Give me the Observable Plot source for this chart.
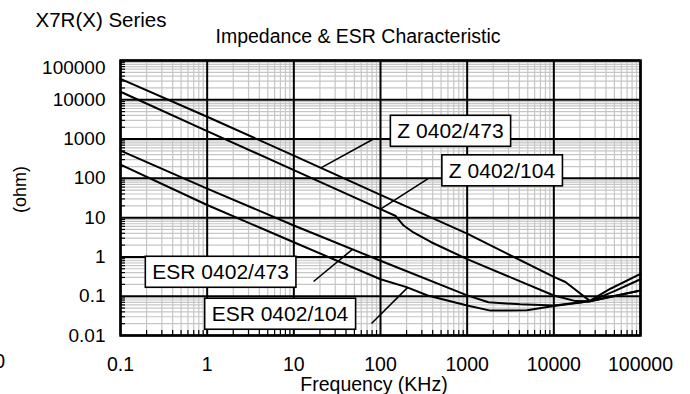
<!DOCTYPE html>
<html><head><meta charset="utf-8">
<script src="https://cdn.jsdelivr.net/npm/d3@7"></script>
<script src="https://cdn.jsdelivr.net/npm/@observablehq/plot@0.6"></script>
<style>html,body{margin:0;padding:0;background:#fff;} svg{display:block}</style>
</head><body><div id="chart"></div>
<script>
const titleText = "X7R(X) Series";
const subtitleText = "Impedance & ESR Characteristic";
const xLabelText = "Frequency (KHz)";
const yLabelText = "(ohm)";
const cornerText = "0";

const xTickValues = [0.1, 1, 10, 100, 1000, 10000, 100000];
const xTickLabels = ["0.1", "1", "10", "100", "1000", "10000", "100000"];
const yTickValues = [0.01, 0.1, 1, 10, 100, 1000, 10000, 100000];
const yTickLabels = ["0.01", "0.1", "1", "10", "100", "1000", "10000", "100000"];
const minorSteps = [2, 3, 4, 5, 6, 7, 8, 9];

const seriesNames = ["Z 0402/473", "Z 0402/104", "ESR 0402/473", "ESR 0402/104"];

const z473Freq = [0.1, 1, 10, 100, 1000, 10000, 13600, 26000, 38000, 45000, 100000];
const z473Ohm  = [34000, 3700, 380, 38, 3.9, 0.31, 0.23, 0.076, 0.126, 0.155, 0.37];

const z104Freq = [0.1, 1, 10, 100, 150, 185, 240, 380, 1000, 10000, 17800, 26000, 50000, 100000];
const z104Ohm  = [16000, 1600, 162, 16.5, 11, 6.3, 4.2, 2.4, 0.88, 0.104, 0.075, 0.074, 0.135, 0.27];

const esr473Freq = [0.1, 1, 10, 100, 1000, 1760, 4100, 10000, 26000, 100000];
const esr473Ohm  = [510, 55, 6.3, 0.8, 0.105, 0.07, 0.062, 0.058, 0.074, 0.14];

const esr104Freq = [0.1, 1, 10, 100, 200, 350, 1000, 1860, 4900, 10000, 26000, 100000];
const esr104Ohm  = [224, 21, 2.36, 0.27, 0.17, 0.104, 0.058, 0.043, 0.044, 0.056, 0.074, 0.14];

// callout label anchor positions (frequency, ohm) and leader lines
const labelFreq = [642, 2523, 1.43, 6.92];
const labelOhm  = [1552, 153, 0.40, 0.0342];
const leaderFreq1 = [20.8, 100, 16.9, 78.7];
const leaderOhm1  = [188, 16.5, 0.237, 0.0202];
const leaderFreq2 = [83, 358, 47.5, 205];
const leaderOhm2  = [1000, 100, 1.56, 0.165];

const FONT = "'Liberation Sans', Arial, Helvetica, sans-serif";

const seriesF = [z473Freq, z104Freq, esr473Freq, esr104Freq];
const seriesV = [z473Ohm, z104Ohm, esr473Ohm, esr104Ohm];
const rows = [];
seriesNames.forEach((s, k) => seriesF[k].forEach((f, i) => rows.push({s, f, v: seriesV[k][i]})));

const labels = seriesNames.map((s, i) => ({s, f: labelFreq[i], v: labelOhm[i]}));
const leaders = seriesNames.map((s, i) => ({f1: leaderFreq1[i], v1: leaderOhm1[i], f2: leaderFreq2[i], v2: leaderOhm2[i]}));

const xMinor = xTickValues.slice(0, -1).flatMap(d => minorSteps.map(m => d * m));
const yMinor = yTickValues.slice(0, -1).flatMap(d => minorSteps.map(m => d * m));
const xFmt = new Map(xTickValues.map((v, i) => [v, xTickLabels[i]]));
const yFmt = new Map(yTickValues.map((v, i) => [v, yTickLabels[i]]));

const chart = Plot.plot({
  width: 690, height: 394,
  marginLeft: 120, marginRight: 50, marginTop: 60, marginBottom: 59,
  x: {type: "log", domain: [0.1, 100000], label: null},
  y: {type: "log", domain: [0.01, 100000], label: null},
  style: {fontFamily: FONT, fontSize: "19.5px", color: "#000", background: "#fff", overflow: "visible"},
  marks: [
    Plot.gridX(xMinor, {stroke: "#c6c6c6", strokeOpacity: 1, strokeWidth: 1.2}),
    Plot.gridY(yMinor, {stroke: "#c6c6c6", strokeOpacity: 1, strokeWidth: 1.2}),
    Plot.gridX(xTickValues, {stroke: "#000", strokeOpacity: 1, strokeWidth: 2}),
    Plot.gridY(yTickValues, {stroke: "#000", strokeOpacity: 1, strokeWidth: 2}),
    Plot.axisX(xMinor, {anchor: "bottom", tickSize: -5, tickFormat: () => "", label: null, strokeWidth: 1.2}),
    Plot.axisY(yMinor, {anchor: "left", tickSize: -5, tickFormat: () => "", label: null, strokeWidth: 1.2}),
    Plot.frame({stroke: "#000", strokeWidth: 2.5}),
    Plot.line(rows, {x: "f", y: "v", z: "s", stroke: "#000", strokeWidth: 2}),
    Plot.link(leaders, {x1: "f1", y1: "v1", x2: "f2", y2: "v2", stroke: "#000", strokeWidth: 1.6}),
    Plot.text(labels, {x: "f", y: "v", text: "s", fontSize: 21, fill: "#000"}),
    Plot.axisX(xTickValues, {anchor: "bottom", tickSize: 0, tickPadding: 22, tickFormat: d => xFmt.get(d), label: null, fontSize: 19.5}),
    Plot.axisY(yTickValues.slice(0, -1), {anchor: "left", tickSize: 0, tickPadding: 15, tickFormat: d => yFmt.get(d), label: null, fontSize: 19}),
    Plot.axisY(yTickValues.slice(-1), {anchor: "left", tickSize: 0, tickPadding: 15, dy: 7.5, tickFormat: d => yFmt.get(d), label: null, fontSize: 19}),
    Plot.text([titleText], {frameAnchor: "top-left", text: d => d, textAnchor: "start", lineAnchor: "middle", dx: -85, dy: -40.5, fontSize: 20.5}),
    Plot.text([subtitleText], {frameAnchor: "top-left", text: d => d, textAnchor: "start", lineAnchor: "middle", dx: 95, dy: -23.5, fontSize: 19.5}),
    Plot.text([xLabelText], {frameAnchor: "bottom", text: d => d, textAnchor: "middle", lineAnchor: "middle", dx: -6.5, dy: 49.5, fontSize: 19.5}),
    Plot.text([yLabelText], {frameAnchor: "left", text: d => d, rotate: -90, textAnchor: "middle", lineAnchor: "middle", dx: -100, dy: -8.5, fontSize: 18}),
    Plot.text([cornerText], {frameAnchor: "bottom-left", text: d => d, textAnchor: "end", lineAnchor: "middle", dx: -115.5, dy: 26.5, fontSize: 19.5})
  ]
});
document.getElementById("chart").appendChild(chart);

// white boxes behind callout labels
const labelSet = new Set(seriesNames);
const padX = 7, padY = 4;
d3.select(chart).selectAll("text").each(function () {
  if (!labelSet.has(this.textContent)) return;
  const b = this.getBBox();
  const r = document.createElementNS("http://www.w3.org/2000/svg", "rect");
  r.setAttribute("x", b.x - padX);
  r.setAttribute("y", b.y - padY);
  r.setAttribute("width", b.width + 2 * padX);
  r.setAttribute("height", b.height + 2 * padY);
  const t = this.getAttribute("transform");
  if (t) r.setAttribute("transform", t);
  r.setAttribute("fill", "#fff");
  r.setAttribute("stroke", "#000");
  r.setAttribute("stroke-width", 1.6);
  this.parentNode.insertBefore(r, this);
});
</script>
</body></html>
